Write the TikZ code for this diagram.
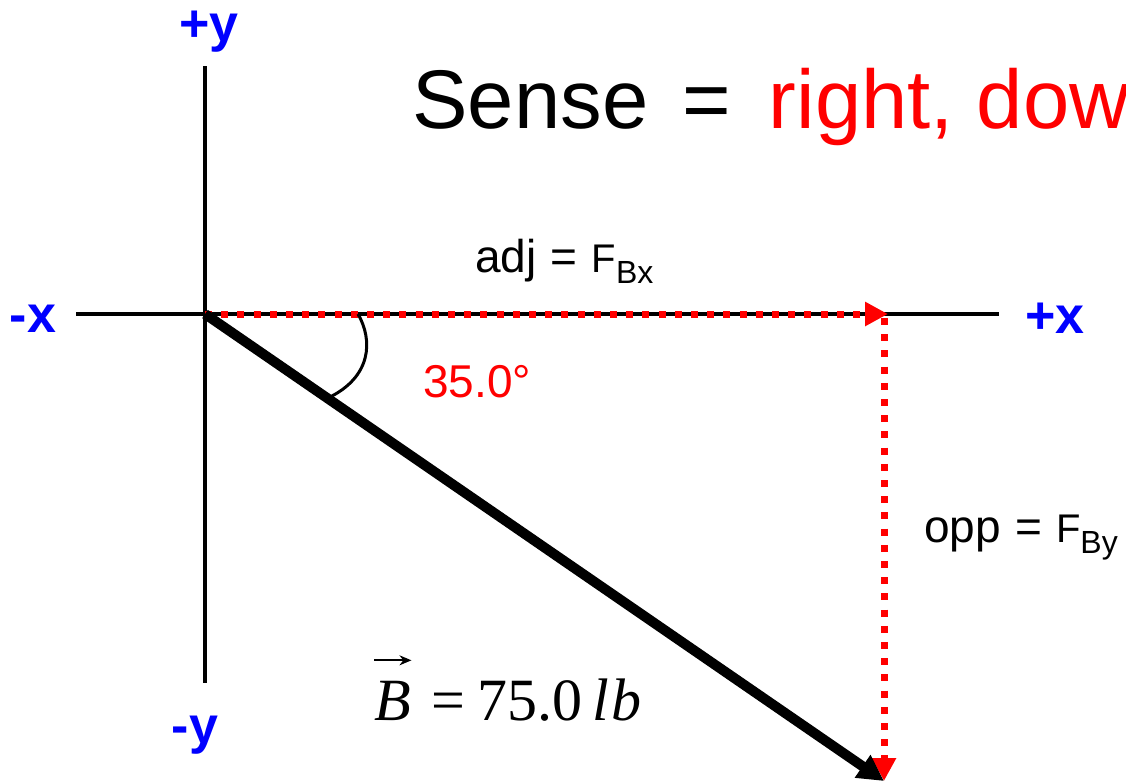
\documentclass[tikz,border=0pt]{standalone}
\usepackage{fontspec}
\setmainfont{Liberation Sans}
\newfontfamily\timesfont{Liberation Serif}
\usetikzlibrary{arrows.meta}

\newcommand{\compname}[1]{{\fontsize{20}{22}\selectfont F}\raisebox{-5.5pt}{\fontsize{16}{18}\selectfont #1}}

\begin{document}
\begin{tikzpicture}
[
    x=0.5pt, y=-0.5pt,
    axisline/.style={line width=2pt},
    axislabel/.style={text=blue, font=\fontsize{26}{28}\selectfont\bfseries, inner sep=0pt, anchor=base},
    component/.style={draw=red, line width=3.5pt, dash pattern=on 3.5pt off 4.6pt, -{Triangle[length=11.5pt,width=11.5pt]}},
    resultant/.style={line width=5pt, -{Triangle[length=13pt,width=13pt]}},
    textlabel/.style={inner sep=0pt, anchor=base west, font=\fontsize{23}{26}\selectfont}
]
    \useasboundingbox (0,0) rectangle (1126,783);

    % axes
    \coordinate (O) at (205,314);
    \coordinate (xneg) at (76,314);
    \coordinate (xpos) at (999,314);
    \coordinate (ypos) at (205,66);
    \coordinate (yneg) at (205,683);
    \draw [axisline] (xneg) -- (xpos);
    \draw [axisline] (ypos) -- (yneg);
    \node [axislabel] (lypos) at (209,41) {+y};
    \node [axislabel] (lyneg) at (195,743) {-y};
    \node [axislabel] (lxneg) at (33,332) {-x};
    \node [axislabel] (lxpos) at (1055,333) {+x};

    % components
    \coordinate (Bx) at (884,314);
    \coordinate (Bxtop) at (884,318);
    \coordinate (By) at (884,781);
    \draw [component, shorten >=-2pt] (O) -- (Bx);
    \draw [component] (Bxtop) -- (By);

    % resultant
    \draw [resultant] (O) -- (By);
    \draw [line width=1.5pt] (358,314) .. controls (373,340) and (372,377) .. (328,398);

    % texts
    \node [inner sep=0pt, anchor=base west, font=\fontsize{41.6}{45}\selectfont] (sense) at (412,128)
        {Sense\hspace{17pt}=\hspace{19pt}\textcolor{red}{right, dow}};
    \node [textlabel] (adj) at (475,272) {adj\hspace{7pt}=\hspace{7pt}\compname{Bx}};
    \node [textlabel, text=red] (angle) at (423,397) {35.0°};
    \node [textlabel] (opp) at (924,542) {opp\hspace{7pt}=\hspace{7pt}\compname{By}};
    \node [inner sep=0pt, anchor=base west, font=\timesfont\fontsize{30}{33}\selectfont\itshape] (Bsym) at (374,720) {B};
    \node [inner sep=0pt, anchor=base west, font=\timesfont\fontsize{30}{33}\selectfont] (Beq) at (Bsym.base east)
        {\hspace{10pt}=\hspace{6pt}75.0\hspace{5pt}\textit{l\hspace{1pt}b}};
    \draw [line width=0.9pt, -{Stealth[length=6pt,width=5pt]}] ([yshift=10pt]Bsym.north west) -- ([yshift=10pt]Bsym.north east);
\end{tikzpicture}
\end{document}
